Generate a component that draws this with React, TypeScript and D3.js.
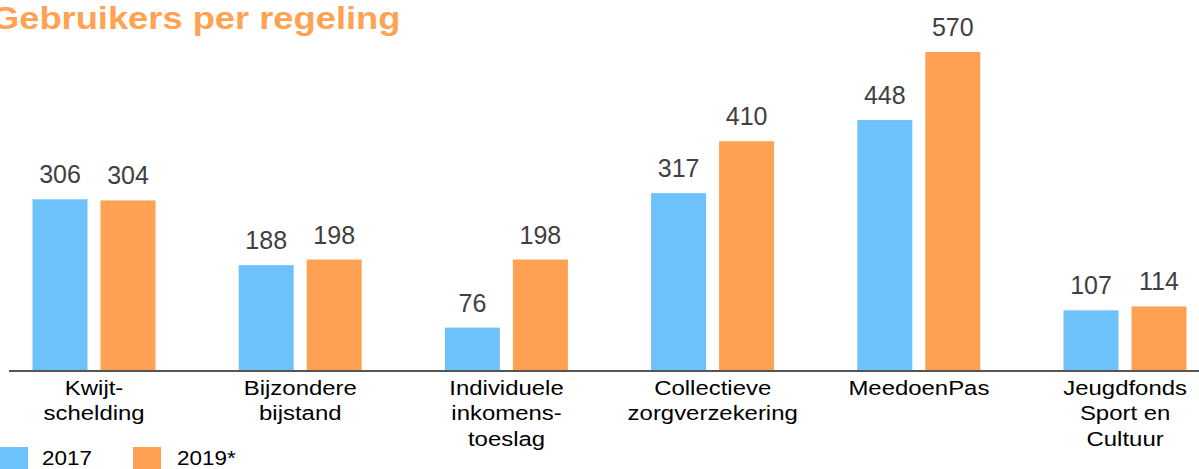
import React from "react";
import * as d3 from "d3";

const categories = [
  ["Kwijt-", "schelding"],
  ["Bijzondere", "bijstand"],
  ["Individuele", "inkomens-", "toeslag"],
  ["Collectieve", "zorgverzekering"],
  ["MeedoenPas"],
  ["Jeugdfonds", "Sport en", "Cultuur"],
];
const categoryKeys = categories.map((c) => c.join(" "));
const seriesNames = ["2017", "2019*"];
const values2017 = [306, 188, 76, 317, 448, 107];
const values2019 = [304, 198, 198, 410, 570, 114];
const seriesValues = [values2017, values2019];
const colors = ["#6EC2FB", "#FFA153"];

const W = 1199;
const H = 469;
const baseline = 370;

export default function App() {
  const x = d3.scaleBand<string>().domain(categoryKeys).range([-9, -9 + 206.2 * 6]).padding(0);
  const inner = d3
    .scaleBand<string>()
    .domain(seriesNames)
    .range([(206 - 123) / 2, (206 - 123) / 2 + 123])
    .paddingInner(13 / 68)
    .paddingOuter(0);
  const y = d3.scaleLinear().domain([0, 570]).range([baseline, baseline - 318]);

  return (
    <svg
      width={W}
      height={H}
      style={{ position: "absolute", left: 0, top: 0, fontFamily: "'Liberation Sans', Arial, sans-serif" }}
    >
      <rect width={W} height={H} fill="#fff" />
      <g transform="translate(-9,29) scale(1.19,1)">
        <text fontSize={30.5} fontWeight="bold" fill="#FFA352">
          Gebruikers per regeling
        </text>
      </g>
      {categoryKeys.map((k, ci) => (
        <g key={k} transform={`translate(${x(k)},0)`}>
          {seriesNames.map((s, si) => {
            const v = seriesValues[si][ci];
            const bx = inner(s)!;
            const bw = inner.bandwidth();
            return (
              <g key={s}>
                <rect x={bx} y={y(v)} width={bw} height={baseline - y(v)} fill={colors[si]} />
                <text
                  x={bx + bw / 2}
                  y={y(v) - 16}
                  textAnchor="middle"
                  fontSize={25}
                  fill="#404040"
                >
                  {v}
                </text>
              </g>
            );
          })}
          <g transform={`translate(${x.bandwidth() / 2},0) scale(1.14,1)`}>
            {categories[ci].map((line, li) => (
              <text key={li} x={0} y={395 + li * 25.5} textAnchor="middle" fontSize={21} fill="#000">
                {line}
              </text>
            ))}
          </g>
        </g>
      ))}
      <line x1={9} x2={W} y1={371} y2={371} stroke="#555" strokeWidth={2} />
      {seriesNames.map((s, i) => {
        const lx = [0, 133][i];
        const tx = [42, 177][i];
        return (
          <g key={s}>
            <rect x={lx} y={447} width={28} height={22} fill={colors[i]} />
            <g transform={`translate(${tx},465) scale(1.07,1)`}>
              <text fontSize={21} fill="#000">
                {s}
              </text>
            </g>
          </g>
        );
      })}
    </svg>
  );
}
